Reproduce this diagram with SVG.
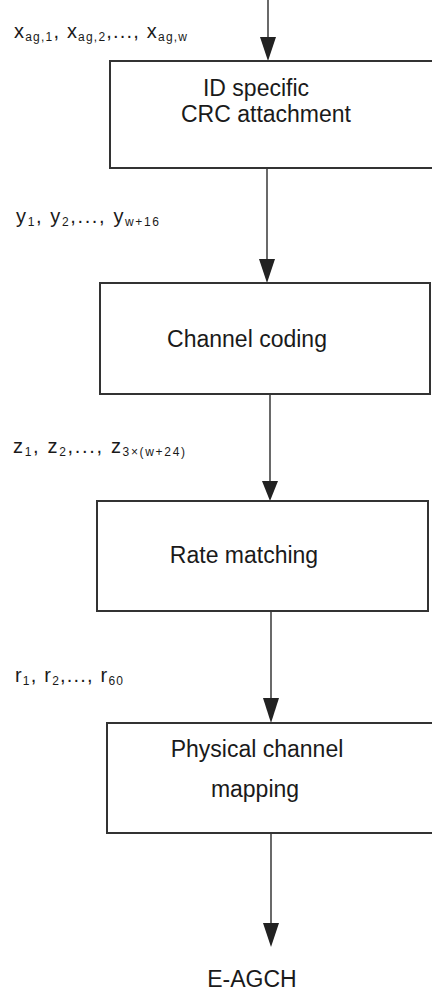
<svg xmlns="http://www.w3.org/2000/svg" width="432" height="991" viewBox="0 0 432 991">
<style>
  .box { fill: #ffffff; stroke: #333333; stroke-width: 2; }
  .conn { stroke: #444444; stroke-width: 1.6; fill: none; }
  .head { fill: #222222; }
  .t { font-family: "Liberation Sans", Arial, sans-serif; font-size: 23px; fill: #1a1a1a; text-anchor: middle; }
  .lbl { font-family: "Liberation Sans", Arial, sans-serif; font-size: 20px; fill: #1a1a1a; }
  .sub { font-size: 12px; }
</style>
<rect width="432" height="991" fill="#ffffff"/>
<g id="connectors">
  <path class="conn" d="M268,0 V37"/>
  <path class="head" d="M260,37 L276,37 L268,61 Z"/>
  <path class="conn" d="M267,168 V259"/>
  <path class="head" d="M259,259 L275,259 L267,283 Z"/>
  <path class="conn" d="M270,394 V481"/>
  <path class="head" d="M262,481 L278,481 L270,501 Z"/>
  <path class="conn" d="M271,611 V698"/>
  <path class="head" d="M263,698 L279,698 L271,723 Z"/>
  <path class="conn" d="M271,833 V923"/>
  <path class="head" d="M263,923 L279,923 L271,947 Z"/>
</g>
<g id="label-x">
  <text class="lbl" x="14" y="38" textLength="173" lengthAdjust="spacing">x<tspan class="sub" dy="3">ag,1</tspan><tspan dy="-3">, x</tspan><tspan class="sub" dy="3">ag,2</tspan><tspan dy="-3">,..., x</tspan><tspan class="sub" dy="3">ag,w</tspan></text>
</g>
<g id="crc">
  <rect class="box" x="110" y="61" width="330" height="107"/>
  <text class="t" x="256" y="96">ID specific</text>
  <text class="t" x="266" y="122">CRC attachment</text>
</g>
<g id="label-y">
  <text class="lbl" x="16" y="223" textLength="143" lengthAdjust="spacing">y<tspan class="sub" dy="3">1</tspan><tspan dy="-3">, y</tspan><tspan class="sub" dy="3">2</tspan><tspan dy="-3">,..., y</tspan><tspan class="sub" dy="3">w+16</tspan></text>
</g>
<g id="coding">
  <rect class="box" x="100" y="283" width="330" height="111"/>
  <text class="t" x="247" y="347">Channel coding</text>
</g>
<g id="label-z">
  <text class="lbl" x="13" y="453" textLength="172" lengthAdjust="spacing">z<tspan class="sub" dy="3">1</tspan><tspan dy="-3">, z</tspan><tspan class="sub" dy="3">2</tspan><tspan dy="-3">,..., z</tspan><tspan class="sub" dy="3">3×(w+24)</tspan></text>
</g>
<g id="rate">
  <rect class="box" x="97" y="501" width="331" height="110"/>
  <text class="t" x="244" y="563">Rate matching</text>
</g>
<g id="label-r">
  <text class="lbl" x="15" y="682" textLength="108" lengthAdjust="spacing">r<tspan class="sub" dy="3">1</tspan><tspan dy="-3">, r</tspan><tspan class="sub" dy="3">2</tspan><tspan dy="-3">,..., r</tspan><tspan class="sub" dy="3">60</tspan></text>
</g>
<g id="mapping">
  <rect class="box" x="107" y="723" width="330" height="110"/>
  <text class="t" x="257" y="757">Physical channel</text>
  <text class="t" x="255" y="797">mapping</text>
</g>
<g id="eagch">
  <text class="t" x="252" y="987">E-AGCH</text>
</g>
</svg>
